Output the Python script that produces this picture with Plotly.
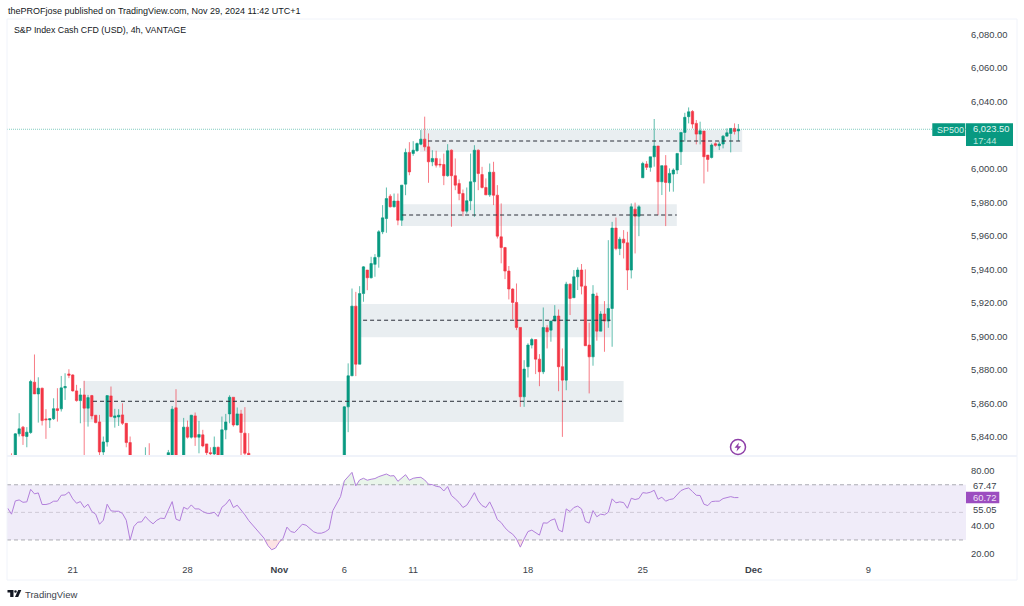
import numpy as np
import plotly.graph_objects as go

W, H = 1024, 606

# palette
UP = "#089981"
DOWN = "#F23645"
UP_WICK = "rgba(8,153,129,0.65)"
DOWN_WICK = "rgba(242,54,69,0.65)"
INK = "#131722"
LABEL = "#3B3F4A"
ZONE = "#E9EEF1"
FRAME = "#F0F3FA"
RSI_LINE = "#B27FDB"
RSI_BAND = "#F0ECF9"
RSI_BOX = "#9C4DC0"
FONT = "Liberation Sans, Arial, sans-serif"

# 4h candles, prices (the ones under 5829 are cut by the pane)
open_px = [
    5822, 5828, 5825, 5842, 5846, 5840.4, 5842.8, 5872.8, 5865.8, 5869.2,
    5850.9, 5850.3, 5851, 5857, 5856.9, 5869.4, 5877.7, 5877.1, 5867.6, 5861.8,
    5865.2, 5857.3, 5864.8, 5853.1, 5849.1, 5831.2, 5837.2, 5864.6, 5851.7, 5852.1,
    5853.3, 5848.3, 5836.8, 5826, 5820, 5818, 5822, 5825, 5822, 5820,
    5817, 5818, 5826, 5826, 5857.5, 5825, 5826, 5846, 5840, 5852.7,
    5840, 5841.4, 5836, 5830.8, 5830, 5834, 5829.4, 5844.4, 5853.9, 5863.8,
    5847.3, 5853.9, 5842.4, 5830.4,
    5826, 5822, 5818, 5816, 5813, 5808, 5806, 5803, 5801, 5802, 5800, 5803,
    5806, 5808, 5806, 5803, 5802, 5803, 5805, 5807, 5812, 5816, 5820, 5822,
    5826, 5858.1, 5876.6, 5918.1, 5883.5, 5925.6, 5939.6, 5935, 5943, 5947.5,
    5962.4, 5970.3, 5983.6, 5977.3, 5980.7, 5969.3, 5990.8, 6009.7, 6009.1, 6010.7,
    6014.6, 6017.6, 6013, 6004.1, 6006.1, 6002.6, 6002.5, 5995.8, 6011, 5995.8,
    5991.2, 5985.2, 5974.7, 5980.9, 5992.2, 6011, 5996.5, 5988.8, 5984.4, 5997.9,
    5984.2,
    5959.4, 5953, 5939, 5928.3, 5920.3, 5905.4, 5864.1, 5882, 5894.9, 5898.2,
    5886.5, 5879, 5905.2, 5903.8, 5909.2, 5912.2, 5882, 5874, 5931.2, 5923.1,
    5935.6, 5939.6, 5930, 5894.9, 5887.9, 5924.1, 5903.2, 5913.4, 5909.2, 5916.7,
    5964.6, 5952.4, 5958, 5955.8, 5939.6, 5975.9, 5971.7,
    5994.6, 6002.8, 6000.8, 6007.1, 6013.5, 5992.2, 6001.8, 5991.6, 5996.8, 5999.2,
    6010.1, 6021.6, 6031, 6034.1, 6027, 6020.6, 6022.4, 6008.1, 6006.7, 6014.9,
    6013.7, 6014.7, 6019.4, 6021, 6024, 6022.5,
]
high_px = [
    5828, 5830.4, 5842.4, 5854.3, 5846.7, 5846, 5874.2, 5889.3, 5875.7, 5869.5,
    5856.7, 5851.2, 5863.2, 5869.2, 5876.5, 5878.1, 5880.5, 5877.5, 5871.2, 5869.2,
    5873.6, 5865.2, 5865.2, 5853.1, 5853.3, 5840.4, 5864.8, 5870.2, 5856.9, 5856.7,
    5860.2, 5848.3, 5840.4, 5828, 5824, 5826, 5834, 5836.4, 5826, 5824,
    5822, 5826, 5832.4, 5858.6, 5868.6, 5828, 5851.5, 5849.9, 5853.3, 5854.7,
    5849.7, 5844.4, 5836, 5834, 5840.4, 5834.4, 5852.3, 5853.9, 5865, 5863.8,
    5857.7, 5856.3, 5857.9, 5842.4,
    5828, 5824, 5820, 5818, 5815, 5810, 5808, 5805, 5804, 5804, 5805, 5808,
    5810, 5810, 5808, 5805, 5805, 5807, 5809, 5814, 5818, 5822, 5824, 5828,
    5858.5, 5884, 5928.6, 5926.6, 5930, 5941.9, 5939.6, 5947.5, 5949.1, 5963.4,
    5978.3, 5988.8, 5984.8, 5985.2, 5985.2, 5990.2, 6012, 6015.8, 6016.4, 6015.6,
    6023, 6031, 6021, 6011, 6010.7, 6006.1, 6009, 6014.6, 6011.5, 6006.1,
    5993.6, 5987.6, 5988.8, 6009, 6014, 6011.5, 6001.1, 5994.2, 6003.1, 6004.1,
    5990.2,
    5979.3, 5953.4, 5942, 5928.7, 5931.6, 5905.4, 5885.9, 5896, 5899.2, 5898.2,
    5889.5, 5917.3, 5906.8, 5909.2, 5918.7, 5916.1, 5892.9, 5932.6, 5931.6, 5939.6,
    5941.2, 5943.2, 5940, 5908.2, 5930.6, 5926.1, 5915.1, 5921.1, 5957.4, 5968.3,
    5970.9, 5959.4, 5963.4, 5962.4, 5979.3, 5979.8, 5978.3,
    6004.1, 6004.5, 6007.1, 6029.6, 6013.5, 6001.8, 6008.1, 6000.2, 6000.2, 6009.1,
    6021.6, 6033.3, 6036.5, 6034.9, 6029, 6028, 6022.4, 6008.1, 6015.1, 6015.7,
    6016.1, 6020, 6024, 6024, 6027, 6026.6,
]
low_px = [
    5816, 5815, 5822, 5840.4, 5835.4, 5834, 5842, 5865.8, 5848.7, 5847,
    5839, 5845.5, 5850.3, 5849.3, 5855.3, 5862.2, 5875.2, 5867.2, 5861.2, 5848.3,
    5829.4, 5846.3, 5850.7, 5848.3, 5829, 5828, 5834.4, 5851.9, 5845.7, 5846.7,
    5847.3, 5834, 5822, 5815, 5815, 5816, 5820, 5818, 5816, 5814,
    5813, 5816, 5825, 5824, 5820, 5818, 5822, 5839.2, 5839.2, 5834.8,
    5830.4, 5834, 5829.4, 5829.4, 5829.4, 5826, 5827, 5838.8, 5848.3, 5846.3,
    5847, 5829, 5829.4, 5826,
    5820, 5816, 5814, 5811, 5806, 5804, 5801, 5799, 5799, 5798, 5798, 5801,
    5804, 5804, 5801, 5800, 5800, 5801, 5803, 5805, 5810, 5814, 5818, 5820,
    5822, 5843, 5876.4, 5876.4, 5883.5, 5920.7, 5927.6, 5934.6, 5935.6, 5941,
    5961, 5961.8, 5976.9, 5976.9, 5966.3, 5965.9, 5984.2, 5996.1, 6007.7, 6010.1,
    6014, 6010.7, 5991.6, 6001.5, 6000.7, 6000.7, 5990.2, 5995.2, 5965.4, 5987.2,
    5981.2, 5971.7, 5973.3, 5975.3, 5971.3, 5987.2, 5988.2, 5984.4, 5983.2, 5978.3,
    5958.4,
    5943.6, 5934.2, 5922.1, 5910.2, 5903.8, 5858.1, 5858.1, 5875.6, 5892.9, 5877.6,
    5870.4, 5877.6, 5892.9, 5896.9, 5909.2, 5867.4, 5840.2, 5868, 5912.8, 5923.1,
    5927.7, 5925.1, 5894.5, 5866.1, 5882.6, 5897.5, 5903.2, 5890.9, 5905.2, 5893.9,
    5951.4, 5948.5, 5946.5, 5927.7, 5934.6, 5949.5, 5959.8,
    5994.6, 5999.2, 5998.2, 6001.2, 5972.3, 5984.3, 5965.8, 5986.3, 5986.3, 5996.8,
    6002.2, 6016.1, 6027, 6024, 6014.5, 6014.5, 5991.2, 5998.2, 6006.1, 6013.1,
    6011.1, 6012.1, 6019.4, 6009.7, 6020.4, 6016.5,
]
close_px = [
    5826, 5820, 5842, 5845, 5840.7, 5843, 5873.2, 5865.8, 5869.2, 5849.9,
    5850.4, 5851, 5857, 5855.9, 5869.4, 5870.2, 5876.9, 5867.6, 5861.8, 5865.2,
    5857.3, 5863.6, 5852.7, 5848.7, 5831.2, 5837.2, 5864.8, 5852.3, 5852.7, 5853.1,
    5848.3, 5836.8, 5826, 5820, 5818, 5822, 5825, 5822, 5820, 5817,
    5818, 5822, 5830.8, 5856.7, 5825, 5822, 5846, 5840, 5853.1, 5840,
    5841.6, 5834.8, 5830.8, 5830.2, 5834, 5828, 5844.4, 5849.1, 5863.8, 5847.3,
    5853.9, 5842.8, 5830.4, 5828,
    5822, 5818, 5816, 5813, 5808, 5806, 5803, 5801, 5802, 5800, 5803, 5806,
    5808, 5806, 5803, 5802, 5803, 5805, 5807, 5812, 5816, 5820, 5822, 5826,
    5858.1, 5876.6, 5918.1, 5883.5, 5925.6, 5941.5, 5935, 5943.5, 5947.1, 5962.4,
    5970.7, 5982.2, 5977.3, 5980.7, 5969.3, 5990.2, 6009.7, 5998.1, 6011, 6015,
    6017.6, 6013, 6004.1, 6006.1, 6002.1, 6002.3, 5995.8, 6010.7, 5995.8, 5990.2,
    5985.2, 5974.7, 5980.9, 5992.2, 6011, 5997.1, 5988.8, 5984.4, 5997.9, 5984.2,
    5959.8,
    5953, 5939, 5928.3, 5920.3, 5905.4, 5864.1, 5880.6, 5894.9, 5898.2, 5886.5,
    5879, 5905.4, 5902.8, 5909.2, 5912.2, 5882, 5874, 5931.2, 5922.7, 5935.6,
    5939.6, 5930, 5894.5, 5887.9, 5925.3, 5903.2, 5913.4, 5909.2, 5916.7, 5964.6,
    5952.4, 5958, 5955.8, 5939.6, 5977.3, 5971.7, 5977.3,
    6003.1, 6000.8, 6007.1, 6013.5, 5992.2, 6001.8, 5991.8, 5997.2, 5999.2, 6009.1,
    6021.6, 6030.6, 6033.9, 6026.6, 6020.6, 6022.6, 6007.1, 6005.5, 6014.1, 6013.9,
    6014.7, 6019.4, 6021.4, 6024, 6022.2, 6023.5,
]
rsi_val = [
    53, 48.7, 58.3, 59, 57.3, 57.6, 66.7, 63.4, 64.1, 55.7,
    55.7, 56.4, 58.1, 58.1, 62.4, 62.6, 64.8, 59.8, 56.6, 57.8,
    53.5, 55.9, 50.6, 48.7, 41.4, 44.3, 55.9, 51.1, 50.8, 50.8,
    49.2, 44.3, 29.9, 39.8, 42.9, 43.1, 47, 43.9, 41.7, 44.3,
    45.8, 45.5, 51.8, 57.8, 45.1, 43.9, 53.7, 52.3, 55.4, 52.5,
    52.5, 50.6, 49.4, 49.2, 50.1, 47, 53.7, 55.9, 59.5, 53.5,
    55.2, 51.8, 48.2, 44.1, 41, 38.1, 34.5, 31.3, 26, 22.9,
    24.1, 28.4, 31.3, 39.3, 36.1, 35.4, 38.3, 41.4, 40.7, 38.1,
    35.9, 34.9, 34.9, 35.9, 37.8, 51.3, 55.9, 61.4, 72.8, 75.9,
    79, 69.2, 73.5, 74.7, 73.3, 74, 74.5, 75.9, 76.9, 77.8,
    76.4, 76.6, 72.5, 75.2, 77.3, 73.3, 74.7, 75.2, 75.4, 73.5,
    70.4, 70.1, 68.9, 68.4, 65.5, 68.7, 62.2, 59.8, 57.1, 53.5,
    55.2, 59.5, 64.3, 58.3, 54.9, 53.5, 57.6, 51.8, 44.8, 42.6,
    38.8, 36.1, 34.2, 30.8, 24.8, 30.8, 36.1, 37.1, 35.2, 33.5,
    42.4, 42.2, 44.3, 45.3, 37.3, 35.9, 52.5, 50.6, 53.5, 54.5,
    52.5, 43.4, 42.2, 51.3, 46.8, 48.7, 48.2, 50.1, 59.8, 56.9,
    57.6, 57.1, 53, 60.2, 59.3, 60, 64.3, 63.9, 64.6, 66,
    59.5, 61, 58.1, 59.3, 59.8, 62.6, 65.8, 67, 67.7, 65.1,
    62.4, 62.2, 55.9, 54.9, 57.8, 58.1, 58.1, 60, 60.7, 61.4,
    60.7, 60.72,
]
candle_idx = list(range(len(close_px)))

# date ticks, as candle numbers
tick_idx = [17, 47, 71, 88, 106, 136, 166, 195, 225]
tick_text = ["21", "28", "<b>Nov</b>", "6", "11", "18", "25", "<b>Dec</b>", "9"]

# 6,020 sits behind the last price tag, so it is left out
price_ticks = [5840, 5860, 5880, 5900, 5920, 5940, 5960, 5980, 6000, 6040, 6060, 6080]
rsi_ticks = [80, 40, 20]

# drawn zones: top, bottom, dashed middle, first candle, dash start, last candle
zone_top = [6023, 5978.8, 5919.4, 5873.5]
zone_bottom = [6010, 5965.9, 5899.5, 5849]
zone_mid = [6016.5, 5972.4, 5909.7, 5861.4]
zone_start = [107.8, 103.1, 92.1, 19.7]
zone_dash = [109.9, 103.1, 92.9, 22.3]
zone_end = [192, 174.9, 157.6, 161]


def px(x):
    return x / W


def py(y):
    return 1 - y / H


def box(x0, y0, x1, y1, fill, line=None):
    return dict(type="rect", xref="paper", yref="paper", x0=px(x0), x1=px(x1), y0=py(y0), y1=py(y1),
                fillcolor=fill, line=dict(width=0) if line is None else dict(color=line, width=1),
                layer="above")


def rule(x0, y0, x1, y1, color=FRAME, width=1):
    return dict(type="line", xref="paper", yref="paper", x0=px(x0), x1=px(x1), y0=py(y0), y1=py(y1),
                line=dict(color=color, width=width), layer="above")


def outline(points, fill):
    d = "M" + " L".join(f"{px(a):.5f},{py(b):.5f}" for a, b in points) + " Z"
    return dict(type="path", xref="paper", yref="paper", path=d, fillcolor=fill,
                line=dict(width=0), layer="above")


def note(text, x, y, size=9.4, color=LABEL, anchor="left"):
    return dict(text=text, xref="paper", yref="paper", x=px(x), y=py(y), showarrow=False,
                xanchor=anchor, yanchor="middle", align="left", borderpad=0,
                font=dict(size=size, color=color, family=FONT))


fig = go.Figure()
fig.add_trace(go.Candlestick(
    x=candle_idx, open=open_px, high=high_px, low=low_px, close=close_px,
    xaxis="x", yaxis="y", whiskerwidth=0,
    increasing=dict(line=dict(color=UP_WICK, width=1), fillcolor=UP),
    decreasing=dict(line=dict(color=DOWN_WICK, width=1), fillcolor=DOWN),
))

# shaded overbought / oversold parts of the RSI
base_hi = [70] * len(rsi_val)
base_lo = [30] * len(rsi_val)
fig.add_trace(go.Scatter(x=candle_idx, y=base_hi, yaxis="y2", mode="lines", line=dict(width=0)))
fig.add_trace(go.Scatter(x=candle_idx, y=np.maximum(rsi_val, 70), yaxis="y2", mode="lines",
                         line=dict(width=0), fill="tonexty", fillcolor="rgba(76,175,80,0.12)"))
fig.add_trace(go.Scatter(x=candle_idx, y=base_lo, yaxis="y2", mode="lines", line=dict(width=0)))
fig.add_trace(go.Scatter(x=candle_idx, y=np.minimum(rsi_val, 30), yaxis="y2", mode="lines",
                         line=dict(width=0), fill="tonexty", fillcolor="rgba(242,54,69,0.14)"))
fig.add_trace(go.Scatter(x=candle_idx, y=rsi_val, yaxis="y2", mode="lines",
                         line=dict(color=RSI_LINE, width=1)))

shapes = []
for i in range(len(zone_top)):
    shapes.append(dict(type="rect", xref="x", yref="y", x0=zone_start[i], x1=zone_end[i],
                       y0=zone_bottom[i], y1=zone_top[i], fillcolor=ZONE, line=dict(width=0), layer="below"))
    shapes.append(dict(type="line", xref="x", yref="y", x0=zone_dash[i], x1=zone_end[i],
                       y0=zone_mid[i], y1=zone_mid[i], line=dict(color="#2A2E39", width=1, dash="4px,3px")))

# last price line
shapes.append(dict(type="line", xref="x domain", yref="y", x0=0, x1=1, y0=close_px[-1], y1=close_px[-1],
                   line=dict(color=UP, width=1, dash="1px,1px"), opacity=0.5))

# RSI band
shapes.append(dict(type="rect", xref="x domain", yref="y2", x0=0, x1=1, y0=30, y1=70,
                   fillcolor=RSI_BAND, line=dict(width=0), layer="below"))
for level, col in [(70, "#ABABB3"), (50, "#CFC9D6"), (30, "#ABABB3")]:
    shapes.append(dict(type="line", xref="x domain", yref="y2", x0=0, x1=1, y0=level, y1=level,
                       line=dict(color=col, width=1, dash="4px,3px"), layer="below"))

# frame
shapes += [
    rule(7, 19, 1017, 19),
    rule(7, 19, 7, 580),
    rule(1017, 19, 1017, 580),
    rule(7, 580, 1017, 580),
    rule(7, 456, 1017, 456, width=2),
]

# price and RSI tags
shapes += [
    box(932.3, 123.3, 965.3, 136, UP),
    box(966, 123.3, 1013, 146, UP),
    box(966, 491.7, 999.3, 503.3, RSI_BOX),
]

# bolt marker
shapes.append(dict(type="circle", xref="paper", yref="paper", x0=px(730.5), x1=px(745.5), y0=py(454.5), y1=py(439.5),
                   fillcolor="#FFFFFF", line=dict(color="#8E3FA8", width=1.5), layer="above"))
shapes.append(outline([(739, 442.5), (734.5, 447.8), (737.4, 447.8), (736.5, 451.5), (741.2, 446.2),
                       (738.2, 446.2)], "#8E3FA8"))

# TradingView mark
shapes += [
    outline([(7.5, 590), (13.5, 590), (13.5, 597), (10.2, 597), (10.2, 592.6), (7.5, 592.6)], INK),
    outline([(18.2, 590), (21.3, 590), (18.2, 597), (15, 597)], INK),
    dict(type="circle", xref="paper", yref="paper", x0=px(14.2), x1=px(16.8), y0=py(592.8), y1=py(590.2),
         fillcolor=INK, line=dict(width=0), layer="above"),
]

annotations = [
    note("thePROFjose published on TradingView.com, Nov 29, 2024 11:42 UTC+1", 7, 11, size=9, color=INK),
    note("S&amp;P Index Cash CFD (USD), 4h, VANTAGE", 13, 30, size=8.8, color=INK),
    note("SP500", 935.5, 130, size=9, color="#D6F0EA"),
    # price and countdown share one label, as on the tag
    note("6,023.50<br><span style='color:#BFE6DD'>17:44</span>", 971.5, 134.7, color="#E2F5F1"),
    note("67.47", 971.5, 485),
    note("60.72", 971.5, 497.5, color="#F0E0F6"),
    note("55.05", 971.5, 509.5),
    note("TradingView", 24, 594, size=9.5, color="#3B3F4A"),
]

fig.update_layout(
    width=W, height=H,
    margin=dict(l=0, r=0, t=0, b=0),
    paper_bgcolor="#FFFFFF", plot_bgcolor="#FFFFFF",
    font=dict(family=FONT, color=LABEL, size=10),
    showlegend=False, boxgap=0.12,
    shapes=shapes, annotations=annotations,
    xaxis=dict(domain=[px(7), px(966)], range=[-0.18, 250.5], anchor="y2", showgrid=False, zeroline=False,
               showline=False, rangeslider=dict(visible=False), tickmode="array", tickvals=tick_idx,
               ticktext=tick_text, ticks="", tickfont=dict(size=9.4, color=LABEL), ticklabelstandoff=0),
    yaxis=dict(domain=[py(456), py(20)], range=[5828.8, 6088.6], anchor="x", side="right", showgrid=False,
               zeroline=False, showline=False, tickmode="array", tickvals=price_ticks, tickformat=",.2f",
               ticks="", tickfont=dict(size=9.4, color=LABEL), ticklabelstandoff=4),
    yaxis2=dict(domain=[py(563), py(456)], range=[13.3, 90.85], anchor="x", side="right", showgrid=False,
                zeroline=False, showline=False, tickmode="array", tickvals=rsi_ticks, tickformat=".2f",
                ticks="", tickfont=dict(size=9.4, color=LABEL), ticklabelstandoff=4),
)

# page margin off, so the fixed-size figure fills the window
fig.write_html("out.html", config={"displayModeBar": False}, post_script="document.body.style.margin = '0';")
